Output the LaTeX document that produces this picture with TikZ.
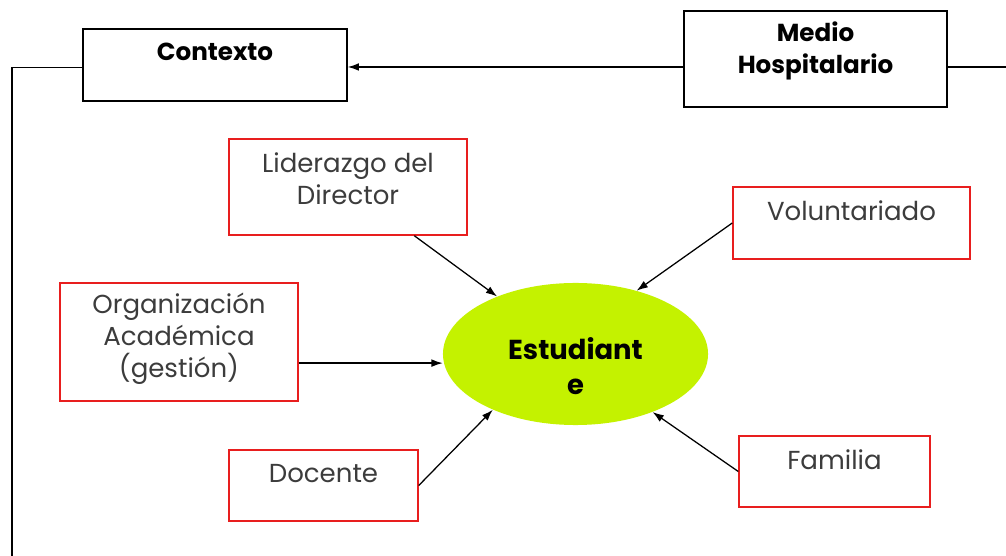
\documentclass[tikz,border=0pt]{standalone}
\usepackage{fontspec}
\setmainfont{Poppins}
\usetikzlibrary{arrows.meta,positioning,shapes.geometric}

\definecolor{limegreen}{RGB}{196,242,0}
\definecolor{boxred}{RGB}{232,30,30}
\definecolor{txtgray}{RGB}{60,60,60}

\tikzset{
  blackbox/.style={draw=black, line width=1pt, rectangle},
  redbox/.style={draw=boxred, line width=1pt, rectangle},
  boldtxt/.style={font=\fontsize{17.5}{22.5}\selectfont\bfseries, align=center, inner sep=0pt},
  plaintxt/.style={font=\fontsize{18.5}{22.7}\selectfont, text=txtgray, align=center, inner sep=0pt},
  conn/.style={line width=0.9pt, -{Latex[length=8pt,width=5.5pt]}}
}

\begin{document}
\begin{tikzpicture}[x=0.025cm, y=-0.025cm]
	\useasboundingbox (0,0) rectangle (1006,556);
	% upper row
	\node[blackbox, minimum width=6.6cm, minimum height=1.8cm] (ctx) at (215,65) {};
	\node[boldtxt] (ctxtxt) at (215,52) {Contexto};
	\node[blackbox, minimum width=6.575cm, minimum height=2.4cm] (medio) at (815.5,59) {};
	\node[boldtxt] (mediotxt) at (815.5,51) {Medio\\Hospitalario};
	% factors
	\node[redbox, minimum width=5.95cm, minimum height=2.4cm] (lider) at (348,187) {};
	\node[plaintxt] (lidertxt) at (348,179) {Liderazgo del\\Director};
	\node[redbox, minimum width=5.925cm, minimum height=1.8cm] (volunt) at (851.5,223) {};
	\node[plaintxt] (volunttxt) at (851.5,211) {Voluntariado};
	\node[redbox, minimum width=5.95cm, minimum height=2.95cm] (organ) at (179,342) {};
	\node[plaintxt] (organtxt) at (179,339) {Organización\\Académica\\(gestión)};
	\node[redbox, minimum width=4.725cm, minimum height=1.775cm] (docente) at (323.5,485.5) {};
	\node[plaintxt] (docentetxt) at (323.5,474) {Docente};
	\node[redbox, minimum width=4.775cm, minimum height=1.775cm] (familia) at (834.5,471.5) {};
	\node[plaintxt] (familiatxt) at (834.5,460) {Familia};
	% student
	\node[ellipse, fill=limegreen, minimum width=6.625cm, minimum height=3.55cm] (stud) at (575.5,354) {};
	\node[boldtxt, font=\fontsize{19.5}{25}\selectfont\bfseries] (studtxt) at (575.5,366) {Estudiant\\e};
	% frame lines
	\coordinate (leftdown) at (12,556);
	\coordinate (rightend) at (1006,67);
	\draw[line width=0.9pt] ([yshift=-2pt]ctx.west) -| (leftdown);
	\draw[conn] (medio.west |- rightend) -- (ctx.east |- rightend);
	\draw[line width=0.9pt] (medio.east |- rightend) -- (rightend);
	% arrows into the student
	\draw[conn] (lider) -- (stud);
	\draw[conn] (volunt.west) -- (stud.46);
	\draw[conn] (organ.-10) -- (organ.-10 -| stud.west);
	\draw[conn] (docente.east) -- (stud.214);
	\draw[conn] (familia.west) -- (stud.-37);
\end{tikzpicture}
\end{document}
